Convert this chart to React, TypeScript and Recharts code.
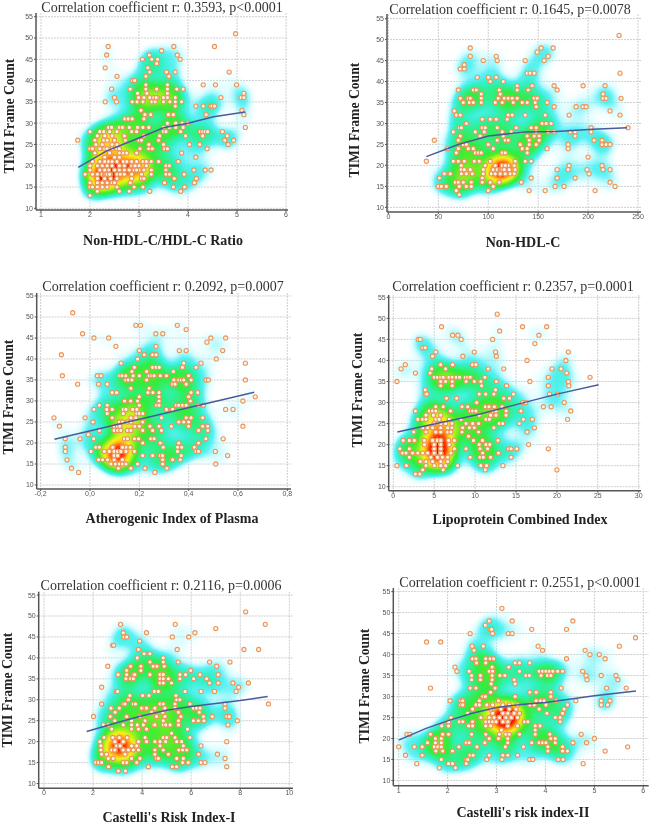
import React from "react";
import { ScatterChart, Scatter, XAxis, YAxis, CartesianGrid } from "recharts";

type Row = [number, number[]];

const yTicks = [10, 15, 20, 25, 30, 35, 40, 45, 50, 55];
const titleA = "Correlation coefficient r: 0.3593, p<0.0001";
const titleB = "Correlation coefficient r: 0.1645, p=0.0078";
const titleC = "Correlation coefficient r: 0.2092, p=0.0007";
const titleD = "Correlation coefficient r: 0.2357, p=0.0001";
const titleE = "Correlation coefficient r: 0.2116, p=0.0006";
const titleF = "Correlation coefficient r: 0.2551, p<0.0001";

const ticksA = [1, 2, 3, 4, 5, 6];
const ticksB = [0, 50, 100, 150, 200, 250];
const ticksC = [-0.2, 0, 0.2, 0.4, 0.6, 0.8];
const ticksD = [0, 5, 10, 15, 20, 25, 30];
const ticksE = [0, 2, 4, 6, 8, 10];
const ticksF = [1, 2, 3, 4, 5, 6];

const curveA = [[1.76,19.6],[2.34,23.5],[3,26.5],[3.5,28.9],[4,30],[4.52,31.5],[5.17,32.6]];
const curveB = [[38,22.1],[70,25],[100,27],[137,28],[168,28.1],[205,28.6],[239,29]];
const curveC = [[-0.144,20.9],[0.666,32.1]];
const curveD = [[0.5,23],[5,24.9],[10,27],[15,29.5],[20,32],[25.1,34.2]];
const curveE = [[1.74,22.4],[2.96,24.5],[4,26.2],[5,27.5],[6,28.4],[8,29.8],[9.12,30.8]];
const curveF = [[1,19.6],[1.56,22.4],[2,24.2],[2.5,26],[3,27.4],[3.5,28.1],[4,28.6],[5,30.2],[5.85,31.3]];

const pointsA: Row[] = [
[51,[4.97]],[48,[2.37,3.71,4.54]],[47,[3.46]],[46,[2.34,3.21,3.78]],[45,[3.07,3.26,3.38,3.84]],[44,[3.36]],
[43,[2.31,3.18]],[42,[3.22,3.56,3.74,4.84]],[41,[2.55,3.14,3.61]],[40,[2.87,2.91]],[39,[3.14,3.58,4.31,4.56,4.99]],
[38,[2.44,2.82,3.14,3.36,3.58,3.77,3.9]],[37,[2.97,3.16,3.58,5.14]],[36,[2.5,2.99,3.1,3.22,3.38,3.5,3.58,3.74,4.67,5.08,5.14]],
[35,[2.31,2.54,2.86,2.96,3.08,3.26,3.33,3.5,3.63,3.74,3.87]],[34,[3.74,4.16,4.31,4.46,4.49,4.54]],[33,[3.04,5.1]],
[32,[3.12,3.24,3.6,3.7,4.37,5.14]],[31,[2.71,2.78,2.86,3.1]],[30,[3.58,3.75,3.88,4]],
[29,[2.38,2.44,2.6,2.66,2.8,2.97,3.08,3.2,3.5,3.62,3.75,3.9,5.17]],[28,[2,2.2,2.28,2.4,2.55,2.85,2.95,3.5,3.55,3.85,4.25,4.3,4.35,4.4,4.7]],
[27,[2.15,2.3,2.45,2.7,3.1,3.42,3.95,4.3,4.8]],[26,[1.75,2.1,2.28,2.35,2.5,2.72,3,3.05,3.4,4.75,4.93]],
[25,[2.12,2.25,2.45,2.55,3.2,3.5,4.03,4.24,4.82]],[24,[2,2.05,2.2,2.3,2.35,2.45,2.55,2.6,3.02,3.2,3.27,3.52,3.58,4.39]],
[23,[2.1,2.4,2.6,2.68,2.75,2.95,3.87]],[22,[2.3,2.5,2.6,4.16]],[21,[2.05,2.2,2.3,2.38,2.45,2.55,2.68,2.75,2.85,2.95,3.08,3.15,3.25,3.4,3.8]],
[20,[2,2.15,2.25,2.35,2.45,2.6,2.85,2.92,3,3.15,3.55,3.62]],[19,[2,2.2,2.3,2.38,2.5,2.6,2.7,2.8,2.9,3,3.1,3.25,3.55,4.12,4.35,4.47]],
[18,[1.9,2.05,2.15,2.25,2.32,2.42,2.55,2.62,2.7,2.85,3.05,3.25,3.55,3.62,3.92]],[17,[2.15,2.3,2.42,2.55,2.85,3.05,3.1,3.72,4.17]],
[16,[2,2.15,2.25,2.35,2.45,2.5,2.82,3.52,4.13]],[15,[2,2.05,2.15,2.25,2.35,2.55,2.9,3.08,3.7,3.93]],[14,[2.15,2.6,2.8,3.22,3.85]],[13,[2]],
];

const pointsB: Row[] = [
[51,[231]],[48,[82,153,165]],[47,[149]],[46,[82,108,160]],[45,[95,109,137,156]],[44,[76]],[43,[72,76]],[42,[139,142,146,232]],
[41,[89,100,108]],[40,[102,115]],[39,[129,144,166,195,217]],[38,[70,85,88,111,129,140,169]],[37,[93,112,215]],
[36,[72,80,82,93,110,116,120,124,129,146,149,215,218,233]],[35,[75,81,85,93,107,114,125,134,139,147,159]],[34,[148,166,188,195,198]],
[33,[66,222]],[32,[68,72,120,124,137,157,181,232]],[31,[94,102,108,119]],[30,[78,154,158,163]],[29,[71,73,94,97,109,128,143,148,203,240]],
[28,[65,87,96,114,123,148,160,166,182,187,203]],[27,[72,92,115,139,146,151,187]],[26,[46,70,109,117,120,141,151,206,214]],
[25,[75,78,100,132,141,148,180,214,218,222]],[24,[59,70,80,85,105,134,139,159,180]],[23,[68,87,90,93,114,117,139]],[22,[200]],
[21,[38,65,70,76,86,91,102,127,137,143]],[20,[73,97,107,114,117,120,126,181,214]],[19,[73,76,82,95,105,109,116,121,127,169,180,199,215,222]],
[18,[56,62,73,78,84,95,103,107,112,117,122,126,201]],[17,[51,94,143,169,187]],[16,[67,70,75,83,94,102,111,133,222]],
[15,[50,53,58,71,78,83,105,167,176,227]],[14,[68,100,141,157,207]],[13,[71]],
];

const pointsC: Row[] = [
[51,[-0.07]],[48,[0.186,0.205,0.354]],[47,[0.39]],[46,[-0.03,0.267,0.295]],[45,[0.016,0.076,0.49,0.55]],[44,[0.474]],[43,[0.105,0.268]],
[42,[0.2,0.362,0.39,0.538]],[41,[-0.116,0.22,0.254,0.268]],[40,[0.193,0.512]],[39,[0.126,0.38,0.45,0.63]],[38,[0.18,0.254,0.268,0.281,0.375,0.43]],
[37,[0.17,0.23,0.338]],[36,[-0.112,0.03,0.045,0.12,0.13,0.145,0.175,0.2,0.24,0.25,0.26,0.285,0.31,0.4]],
[35,[0.145,0.155,0.17,0.23,0.34,0.36,0.37,0.38,0.41,0.47,0.48,0.63]],[34,[-0.05,0.035,0.07,0.335,0.345,0.39]],[33,[0.166,0.24]],
[32,[0.09,0.108,0.235,0.255,0.28,0.41,0.437]],[31,[0.2,0.28,0.4,0.67]],[30,[0.14,0.165,0.193,0.28,0.407,0.62]],
[29,[0.038,0.07,0.2,0.27,0.28,0.35,0.36,0.375,0.39,0.44,0.46]],[28,[0.016,0.068,0.09,0.135,0.146,0.173,0.19,0.31,0.335,0.55,0.58]],
[27,[0.07,0.135,0.19,0.2,0.214]],[26,[-0.146,-0.02,0.09,0.166,0.186,0.29,0.39,0.41,0.457]],[25,[0.012,0.119,0.132,0.152,0.166,0.214,0.36,0.38,0.4]],
[24,[-0.124,0.098,0.112,0.121,0.182,0.2,0.243,0.28,0.33,0.4,0.457,0.477,0.62]],[23,[0.038,0.098,0.112,0.125,0.152,0.166,0.214,0.254,0.29,0.44,0.478]],[22,[-0.007]],
[21,[-0.1,-0.04,0.015,0.139,0.152,0.18,0.197,0.247,0.26,0.47,0.54]],[20,[0.214,0.285,0.36,0.44]],[19,[-0.1,0.024,0.038,0.092,0.132,0.146,0.163,0.297,0.355,0.372,0.423]],
[18,[-0.1,0.004,0.058,0.078,0.098,0.112,0.125,0.146,0.18,0.355,0.43,0.44,0.508]],[17,[0.098,0.112,0.214,0.254,0.285,0.294,0.37,0.558]],
[16,[-0.093,0.035,0.051,0.071,0.098,0.132,0.295,0.335,0.366]],[15,[0.085,0.103,0.119,0.132,0.146,0.193,0.295,0.51]],[14,[-0.075,0.115,0.166,0.223,0.312]],[13,[-0.046,0.263]],
];

const pointsD: Row[] = [
[51,[12.7]],[48,[5.9,15.8,18.75]],[47,[13]],[46,[7.25,7.9,17.8]],[45,[3.05,3.3,8.3,12.15]],[44,[17.3]],[43,[3.6,3.9]],[42,[5.2,9.9,12.5,21.4]],
[41,[4.8,8.5,12.6]],[40,[16.35,21.1]],[39,[1.47,5.8,7.25,9.7,10.1]],[38,[0.95,4.7,6.4,11.6,13.5,19.4,20.5]],[37,[2.7,4.5,21.2]],
[36,[5,5.4,5.8,6.1,6.8,7.2,7.7,8.1,8.8,9.1,9.4,11.2,18.95,24.05]],[35,[0.45,5.8,6.4,7.2,8.9,9.9,10.7,12.6,16.7,21.4]],[34,[5.8,7.2,10.8,13.85,18.95,21.45]],
[33,[3.9,12.5]],[32,[3.9,4.1,10.5,11.3,12.3,14.7,19.1,20.1]],[31,[6.5,7.75,13.5,14.2]],[30,[10.2,15.8,16.2,20.9]],
[29,[5.2,6.1,8.4,9.1,11.25,11.7,12.35,13.3,18.35,19.3]],[28,[2.7,4.4,4.8,5.2,7,9.4,9.7,10.1,12.15,12.56,13.8,15.6,21.7]],[27,[4,4.9,5.8,10.5,11.9,12.56,13.78]],
[26,[3,3.6,4,5.2,5.6,6.85,8.28,11.33,11.74,15.9,17,21.3]],[25,[5,5.8,6.4,7.17,8.89,9.7,10.44,12.96,13.37,15.4]],
[24,[3.6,4.2,4.8,5.8,6.65,7.17,8.48,9.3,9.9,12.3,17.25]],[23,[2.5,4,5.2,5.8,6.65,7.05,8.4,10.44,16.35]],[22,[9.2]],
[21,[1.2,1.96,2.57,3.8,4.8,5.4,5.8,6.77,7.46,9.8,10.9,12.8]],[20,[3.8,5,5.8,6.85,10.5,11.33,11.8,16.55]],[19,[0.8,1.96,5,5.8,7.46,8.89,10.6,11.53,14.1,14.4,15.1,18.95]],
[18,[1.14,1.55,2.36,3,3.6,4.2,5,5.8,7.05,10.93,12.85]],[17,[1.96,4.6,5.4,6,6.65,9.4,10.6,11,11.9,14.4]],[16,[3.3,4,4.8,5.8,6.65]],
[15,[0.45,1.6,4,5,5.8,6.4,7.87,10.7,11.4,13.4]],[14,[3.6,6.1,11.25,20]],[13,[2.7,3.25]],
];

const pointsE: Row[] = [
[51,[8.22]],[48,[3.12,5.35,9.02]],[47,[7]],[46,[3.23,4.18,6.15]],[45,[3.26,3.37,5.23,5.9]],[44,[3.9]],[43,[2.8,2.84]],[42,[3.85,5.43,8.15,8.75]],
[41,[4.08,4.32]],[40,[3.8,4.86]],[39,[4.32,4.86,5.47,6.75,7.58]],[38,[2.6,3.53,3.95,4.45,4.6,4.9,7.04]],[37,[3.37,3.95,5.98]],
[36,[3.02,3.37,3.64,3.7,4.32,4.73,4.86,5.54,5.77,6.36,7.1]],[35,[3.34,3.53,3.64,4.73,4.86,5.07,5.54,6.1,6.63]],[34,[4.73,4.86,5.2,6.75,7.1,7.7,8.33]],
[33,[2.35,7.93]],[32,[2.95,3,4.5,4.66,5.75,6.4,6.95,7.83]],[31,[3.5,4.02,4.28,5.38]],[30,[3.44,5.41,5.54]],
[29,[2.35,3.23,3.3,3.64,3.73,4.73,4.86,5.34,5.95,7.38,9.15]],[28,[2.73,3.07,3.98,4.12,4.18,4.52,4.93,5.34,6.09,6.22,6.36,7.38]],[27,[2.9,4.39,4.84,5.48,6.33]],
[26,[2.02,2.7,3.37,3.91,4.59,4.93,5.58,6.5,6.86,7.45,7.55]],[25,[2.89,3.57,4.12,4.86,5.48,6.09,6.29,6.52,7.88]],
[24,[2.42,2.62,3.23,3.57,3.8,4.05,4.46,4.52,4.86,4.96,5.14,5.48,7.5]],[23,[2.76,3.57,3.85,4.18,5.85]],[22,[5.2]],
[21,[2.45,2.8,3.07,3.39,4.12,4.86,5,5.34,5.95]],[20,[2.28,2.89,3.23,3.85,4.18,4.52,4.73,4.96,5.41,5.61,7.45]],[19,[2.32,2.96,3.1,3.57,3.78,4.73,5.68,6.4]],
[18,[2.32,2.76,2.89,3.23,3.44,3.64,3.85,4.52,4.86,5.5,5.65,5.82]],[17,[2.35,2.55,3.3,4.52,5.07,6.3,7.07]],[16,[2.62,2.82,3.57,3.91,4.59,4.66,5.41,5.68,7.38]],
[15,[2.11,2.22,2.35,3.23,3.37,3.78,5.65,5.88,6.4,6.56]],[14,[2.63,4.25,5.23,5.4,7.45]],[13,[3.03,3.32]],
];

const pointsF: Row[] = [
[51,[3.11]],[48,[2.85,3.32,4.56]],[47,[2.77]],[46,[2.87,2.9,3.72,4.43]],[45,[2.46,2.92,3.24,3.32]],[44,[5.84]],[43,[1.57,1.86]],[42,[2.5,2.73,3.85,5.51]],
[41,[2.54,3.94,4.81]],[40,[4.91,5.1]],[39,[2.51,2.58,2.78,2.87,2.94,4.43,5.22]],[38,[2.59,2.78,3.38,3.47,3.68]],[37,[2.15,2.91,3.25]],
[36,[2.19,2.44,2.85,2.92,3.47,3.87,3.94,4.01,4.08,4.15,4.25,4.35,4.76]],[35,[2.49,2.67,2.91,3.07,3.17,3.6,3.67,3.91,4.04,4.11,4.83,5.14,5.44]],[34,[2.49,2.67,2.91,3.36,4.85,5.48]],
[33,[2.89,3.38]],[32,[1.65,2.46,2.58,2.97,4.32,5.25,5.65]],[31,[2.88,3.68,3.81,4.11]],[30,[2.72,2.77,3.38,4.11]],
[29,[2.05,2.27,2.31,2.65,3.04,3.81,3.9,3.97,4.22,4.62,5.14,5.32]],[28,[2.27,2.31,2.58,2.65,2.8,2.92,3.13,3.26,3.43,3.68,3.77,4.01,4.45,5.14,5.27]],
[27,[2.51,2.88,3.09,3.26,3.4,3.87,4.38]],[26,[2.41,2.92,3.13,3.23,3.36,3.47,4.03,4.35]],[25,[2.07,2.68,2.85,2.95,3.06,3.19,3.3,3.43,4.2,4.3]],
[24,[2.02,2.24,2.31,2.51,2.78,2.85,2.92,2.99,3.13,3.23,3.57,3.64,4.3]],[23,[1.88,2.02,2.43,2.51,2.78,2.88,3.23,3.43,3.79,3.89]],[22,[3.1,3.79]],
[21,[1.17,1.23,1.65,1.9,2.02,2.49,2.78,3.06,3.19,3.26,3.47,3.79,4.09,4.73]],[20,[1.75,1.87,2.85,3.04,3.23,4.11,4.2,5]],
[19,[1.59,1.75,1.87,2.38,2.44,2.76,3.23,3.72,3.87,3.94,4.01,4.2,4.56,4.84]],[18,[1,1.32,1.48,1.73,1.8,1.87,2.23,2.6,3.18,3.55,4.05,4.35,5.68]],
[17,[1.76,1.9,2.1,4.05,4.35,4.45,5.22]],[16,[1.14,1.48,2.46,2.52,2.85,3.13,3.23,3.43]],[15,[1.87,2.38,2.41,2.8,3.11,3.68,3.74,4.26,4.36]],[14,[1.37,2.02,2.1,2.38,4.77]],[13,[1.83,2.16]],
];

// Points drawn on top of one another at the densest spots: they show as one dot but feed the density colour.
const stackA: Row[] = [[18,[2.25,2.3,2.3,2.32,2.35,2.35,2.4]],[19,[2.3,2.3,2.9,2.9,2.95,2.8]],[17,[2.3,2.3]],[20,[2.9,2.92,2.7,2.6]],[36,[3.3,3.35]]];
const stackB: Row[] = [[19,[109,112,112,113,113,114,116,116]],[18,[112,112,117,117]],[20,[114,114,117,117]]];
const stackC: Row[] = [[18,[0.098,0.098,0.098,0.112,0.112,0.112,0.125,0.125]],[17,[0.098,0.112,0.112]],[19,[0.092,0.132,0.132]]];
const stackD: Row[] = [[18,[5,5,5.8,5.8,5.8,5.8]],[19,[5,5,5.8,5.8]],[21,[4.8,5.4,5.4,5.8,5.8]],[24,[5.8,5.8,5.8]],[20,[5,5,5.8]],[17,[5.4,5.4]]];
const stackE: Row[] = [[19,[2.96,2.96,3.1,3.1,3.1,3.1]],[18,[2.89,2.89,3.23,3.23,3.23]],[20,[3.23,3.23,2.89]],[21,[3.07,3.07]]];
const stackF: Row[] = [[25,[3.19,3.19,3.19,3.19,3.19,3.19,3.3,3.3,3.3,3.06,3.06]],[24,[3.13,3.23,3.23,3.23,3.23]],[26,[3.13,3.23,3.23,3.36,3.23]]];

const expand = (rows: Row[]) => rows.flatMap(([y, xs]) => xs.map((x) => ({ x, y })));
const toLine = (c: number[][]) => c.map(([x, y]) => ({ x, y }));

const heatLevels = [
  [0, 0, 0, 0], [200, 255, 255, 0], [170, 250, 255, 0.4], [70, 240, 245, 0.88], [40, 240, 195, 0.95], [40, 240, 130, 0.97],
  [45, 235, 60, 0.97], [70, 235, 40, 0.97], [130, 240, 30, 0.97], [190, 240, 20, 0.97], [245, 240, 20, 0.97], [255, 205, 15, 0.97],
  [255, 150, 10, 0.97], [255, 70, 0, 0.97], [250, 15, 0, 0.97], [235, 0, 0, 0.97], [230, 0, 0, 0.97], [230, 0, 0, 0.97], [230, 0, 0, 0.97], [230, 0, 0, 0.97], [230, 0, 0, 0.97],
];
const heatTable = (i: number, d: number) => heatLevels.map((l) => (l[i] / d).toFixed(3)).join(" ");

const Kernel = (p: any) => <circle cx={p.cx} cy={p.cy} r={21} fill="url(#kernel)" />;
const Dot = (p: any) => <circle cx={p.cx} cy={p.cy} r={2.1} fill="#fff3e6" stroke="#ec955a" strokeWidth={1.1} />;
const NoDot = () => <g />;

const fmtComma = (v: number) => v.toFixed(1).replace(".", ",");
const tickStyle = { fontSize: 7, fontFamily: "Liberation Sans", fill: "#555" };
const axisStroke = { stroke: "#555", strokeWidth: 1.5 };

type PanelProps = {
  box: number[]; plot: number[]; xDom: number[]; yDom: number[]; xTicks: number[];
  points: Row[]; stack: Row[]; curve: number[][]; title: string; xLabel: string;
  titlePos: number[]; xPos: number[]; yPos: number[]; fmt?: (v: number) => string;
};

function Panel({ box, plot, xDom, yDom, xTicks, points, stack, curve, title, xLabel, titlePos, xPos, yPos, fmt }: PanelProps) {
  const [bl, bt, bw, bh] = box;
  const [pl, pt, pr, pb] = plot;
  const pts = expand(points).concat(expand(stack));
  const yW = 14, xH = 14;
  return (
    <div style={{ position: "absolute", left: bl, top: bt }}>
      <ScatterChart width={bw} height={bh}
        margin={{ left: pl - bl - yW, top: pt - bt, right: bl + bw - pr, bottom: bt + bh - pb - xH }}>
        <CartesianGrid stroke="#cfcfcf" strokeDasharray="2 1" verticalValues={xTicks} horizontalValues={yTicks} />
        <XAxis type="number" dataKey="x" domain={xDom} ticks={xTicks} allowDataOverflow height={xH} tickSize={2} tickMargin={0}
          interval={0} tick={tickStyle} axisLine={axisStroke} tickLine={{ stroke: "#555" }} tickFormatter={fmt} />
        <YAxis type="number" dataKey="y" domain={yDom} ticks={yTicks} allowDataOverflow width={yW} tickSize={2} tickMargin={1}
          interval={0} tick={tickStyle} axisLine={axisStroke} tickLine={{ stroke: "#555" }} />
        <Scatter className="heat" data={pts} shape={Kernel} isAnimationActive={false} />
        <Scatter data={pts} shape={Dot} isAnimationActive={false} />
        <Scatter data={toLine(curve)} shape={NoDot} line={{ stroke: "#4a5a9c", strokeWidth: 1.5 }} isAnimationActive={false} />
        <text x={titlePos[0] - bl} y={titlePos[1] - bt} textAnchor="middle" fontFamily="Liberation Serif" fontSize={14} fill="#333">{title}</text>
        <text x={xPos[0] - bl} y={xPos[1] - bt} textAnchor="middle" fontFamily="Liberation Serif" fontWeight="bold" fontSize={14} fill="#222">{xLabel}</text>
        <text transform={`translate(${yPos[0] - bl},${yPos[1] - bt}) rotate(-90)`} textAnchor="middle" fontFamily="Liberation Serif" fontWeight="bold" fontSize={13.7} fill="#222">TIMI Frame Count</text>
      </ScatterChart>
    </div>
  );
}

export default function App() {
  return (
    <div style={{ position: "absolute", left: 0, top: 0, width: 652, height: 824, overflow: "hidden", background: "#fff", filter: "blur(0.45px)" }}>
      <style>{`.heat{filter:url(#heatmap)}`}</style>
      <svg width={0} height={0} style={{ position: "absolute" }}>
        <defs>
          <radialGradient id="kernel">
            <stop offset="0%" stopColor="#000" stopOpacity={0.055} />
            <stop offset="35%" stopColor="#000" stopOpacity={0.038} />
            <stop offset="70%" stopColor="#000" stopOpacity={0.011} />
            <stop offset="100%" stopColor="#000" stopOpacity={0} />
          </radialGradient>
          <filter id="heatmap" colorInterpolationFilters="sRGB" x="-10%" y="-10%" width="120%" height="120%">
            <feGaussianBlur stdDeviation={3} />
            <feColorMatrix type="matrix" values="0 0 0 1 0  0 0 0 1 0  0 0 0 1 0  0 0 0 1 0" />
            <feComponentTransfer>
              <feFuncR type="table" tableValues={heatTable(0, 255)} />
              <feFuncG type="table" tableValues={heatTable(1, 255)} />
              <feFuncB type="table" tableValues={heatTable(2, 255)} />
              <feFuncA type="table" tableValues={heatTable(3, 1)} />
            </feComponentTransfer>
          </filter>
        </defs>
      </svg>
      <Panel box={[0, 0, 326, 262]} plot={[36, 13, 288, 210]} xDom={[0.898, 6.04]} yDom={[9.6, 55.87]} xTicks={ticksA}
        points={pointsA} stack={stackA} curve={curveA} title={titleA} xLabel="Non-HDL-C/HDL-C Ratio" titlePos={[162, 12]} xPos={[163, 245]} yPos={[14, 116]} />
      <Panel box={[326, 0, 326, 262]} plot={[387, 14, 641, 212]} xDom={[-1.4, 253]} yDom={[8.9, 56.1]} xTicks={ticksB}
        points={pointsB} stack={stackB} curve={curveB} title={titleB} xLabel="Non-HDL-C" titlePos={[510, 14]} xPos={[523, 247]} yPos={[359, 120]} />
      <Panel box={[0, 270, 326, 270]} plot={[36.7, 293, 291, 489]} xDom={[-0.216, 0.815]} yDom={[9.05, 55.7]} xTicks={ticksC} fmt={fmtComma}
        points={pointsC} stack={stackC} curve={curveC} title={titleC} xLabel="Atherogenic Index of Plasma" titlePos={[163, 291]} xPos={[172, 523]} yPos={[13, 397]} />
      <Panel box={[326, 270, 326, 270]} plot={[388.7, 295, 641, 490.7]} xDom={[-0.56, 30.28]} yDom={[9.05, 55.55]} xTicks={ticksD}
        points={pointsD} stack={stackD} curve={curveD} title={titleD} xLabel="Lipoprotein Combined Index" titlePos={[513, 291]} xPos={[520, 524]} yPos={[362, 390]} />
      <Panel box={[0, 560, 326, 264]} plot={[38.7, 591.7, 293, 788.3]} xDom={[-0.216, 10.15]} yDom={[8.86, 55.8]} xTicks={ticksE}
        points={pointsE} stack={stackE} curve={curveE} title={titleE} xLabel="Castelli's Risk Index-I" titlePos={[161, 590]} xPos={[169, 822]} yPos={[12, 690]} />
      <Panel box={[326, 560, 326, 264]} plot={[393.3, 588, 648.7, 785.7]} xDom={[0.89, 6.11]} yDom={[8.75, 55.85]} xTicks={ticksF}
        points={pointsF} stack={stackF} curve={curveF} title={titleF} xLabel="Castelli's risk index-II" titlePos={[520, 587]} xPos={[523, 817]} yPos={[369, 686]} />
    </div>
  );
}
